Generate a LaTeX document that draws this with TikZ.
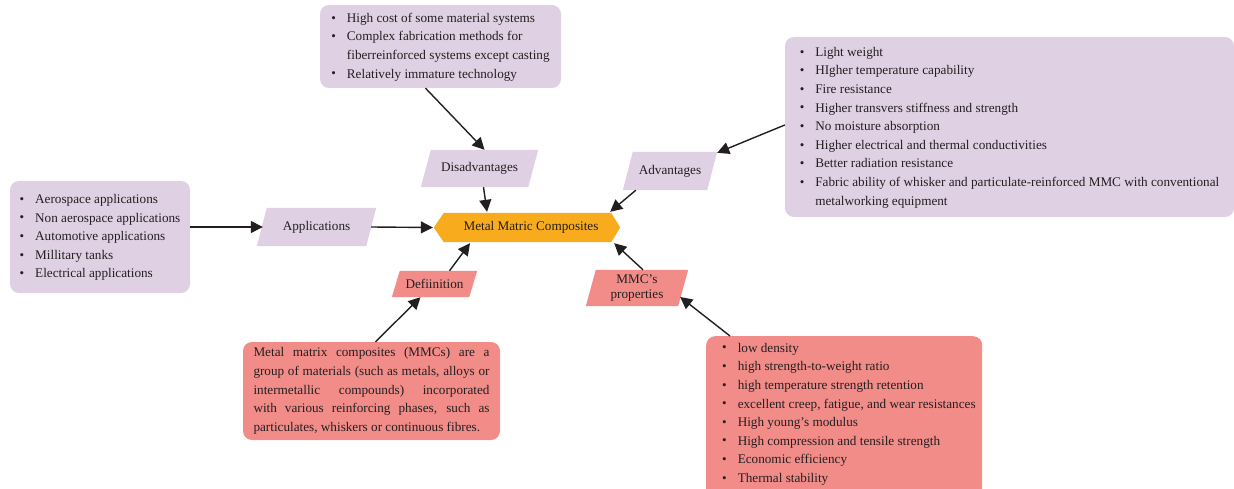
\documentclass[tikz,border=0pt]{standalone}
\usepackage{fontspec}
\setmainfont{Liberation Serif}
\usetikzlibrary{arrows.meta,calc,backgrounds}
\definecolor{lav}{HTML}{E0D0E4}
\definecolor{rosa}{HTML}{F28C89}
\definecolor{orng}{HTML}{F9AB1E}
\definecolor{ink}{HTML}{231F20}
\newcommand\bul{\raisebox{0.05ex}{\fontsize{13}{13}\selectfont\textbullet}}
\newcommand\blist[1]{\begin{tabular}{@{}l@{\hspace{11pt}}l@{}}#1\end{tabular}}
\newcommand\parafill[3]{\fill[#2] ([xshift=#3]#1.north west) -- (#1.north east) -- ([xshift=-#3]#1.south east) -- (#1.south west) -- cycle;}
\begin{document}
\begin{tikzpicture}[x=1pt,y=-1pt,
  every node/.style={text=ink,font=\fontsize{13.2}{18.6}\selectfont},
  listbox/.style={rounded corners=9pt,inner sep=0pt,align=left},
  para/.style={inner sep=0pt,align=center},
  arr/.style={line width=1.4pt,ink,-{Triangle[length=12pt,width=12pt]}}]
\useasboundingbox (0,0) rectangle (1234,489);
% boxes
\node[listbox,fill=lav,minimum width=241,minimum height=83] (dbox) at (440.5,46.5) {\blist{
\bul & High cost of some material systems\\
\bul & Complex fabrication methods for\\
 & fiberreinforced systems except casting\\
\bul & Relatively immature technology}};
\node[listbox,fill=lav,minimum width=449,minimum height=180] (abox) at (1009.5,127) {\blist{
\bul & Light weight\\
\bul & HIgher temperature capability\\
\bul & Fire resistance\\
\bul & Higher transvers stiffness and strength\\
\bul & No moisture absorption\\
\bul & Higher electrical and thermal conductivities\\
\bul & Better radiation resistance\\
\bul & Fabric ability of whisker and particulate-reinforced MMC with conventional\\
 & metalworking equipment}};
\node[listbox,fill=lav,minimum width=180,minimum height=112] (appbox) at (100,237) {\blist{
\bul & Aerospace applications\\
\bul & Non aerospace applications\\
\bul & Automotive applications\\
\bul & Millitary tanks\\
\bul & Electrical applications}};
\node[rounded corners=9pt,fill=rosa,minimum width=257,minimum height=98,inner sep=0pt] (defbox) at (371.5,391) {};
\node[text width=236,align=justify,inner sep=0pt] (deftext) at (defbox.center) {\hyphenpenalty=10000 Metal matrix composites (MMCs) are a\linebreak group of materials (such as metals, alloys or\linebreak intermetallic compounds) incorporated\linebreak with various reinforcing phases, such as\linebreak particulates, whiskers or continuous fibres.};
\node[listbox,fill=rosa,minimum width=276,minimum height=170,anchor=north west] (propbox) at (706,336) {};
\node[anchor=north west,inner sep=0pt] (proptext) at (722,339) {\blist{
\bul & low density\\
\bul & high strength-to-weight ratio\\
\bul & high temperature strength retention\\
\bul & excellent creep, fatigue, and wear resistances\\
\bul & High young’s modulus\\
\bul & High compression and tensile strength\\
\bul & Economic efficiency\\
\bul & Thermal stability}};
% parallelograms and hexagon
\node[para,minimum width=117,minimum height=37] (dis) at (479.5,168.5) {Disadvantages};
\node[para,minimum width=119,minimum height=38] (app) at (316.5,227) {Applications};
\node[para,minimum width=94,minimum height=38] (adv) at (670,171) {Advantages};
\node[para,minimum width=85,minimum height=26] (def) at (434.5,284) {Defiinition};
\node[para,minimum width=102,minimum height=36,font=\fontsize{13.2}{15}\selectfont] (prop) at (637,288) {MMC’s\\properties};
\node[para,minimum width=186,minimum height=29] (hex) at (527,227.5) {\hspace*{8pt}Metal Matric Composites};
\begin{scope}[on background layer]
\parafill{dis}{lav}{10pt}
\parafill{app}{lav}{10pt}
\parafill{adv}{lav}{10pt}
\parafill{def}{rosa}{8pt}
\parafill{prop}{rosa}{10pt}
\fill[orng] (hex.west) -- ([xshift=10pt]hex.north west) -- ([xshift=-9pt]hex.north east) -- (hex.east) -- ([xshift=-9pt]hex.south east) -- ([xshift=10pt]hex.south west) -- cycle;
\end{scope}
% connectors
\draw[arr] ($(dbox.south)+(-15,0)$) -- ($(dis.north)+(5,0)$);
\draw[arr] ($(dis.south)+(4,0)$) -- ($(hex.north)+(-40,-1)$);
\draw[arr] ($(appbox.east)+(0,-10)$) -- ($(app.west)+(6,0)$);
\draw[arr] ($(app.east)+(-5,0)$) -- ($(hex.west)+(-1,0)$);
\draw[arr] ($(abox.west)+(0,-2)$) -- ($(adv.north east)+(0,1)$);
\draw[arr] ($(adv.south west)+(13,0)$) -- ($(hex.north east)+(-10,-1)$);
\draw[arr] ($(def.north)+(15,0)$) -- ($(hex.south)+(-57,1)$);
\draw[arr] ($(defbox.north)+(4,0)$) -- ($(def.south)+(-14,0)$);
\draw[arr] ($(prop.north)+(6,0)$) -- ($(hex.south east)+(-6,1)$);
\draw[arr] ($(propbox.north west)+(24,0)$) -- ($(prop.east)+(-8,9)$);
\end{tikzpicture}
\end{document}
